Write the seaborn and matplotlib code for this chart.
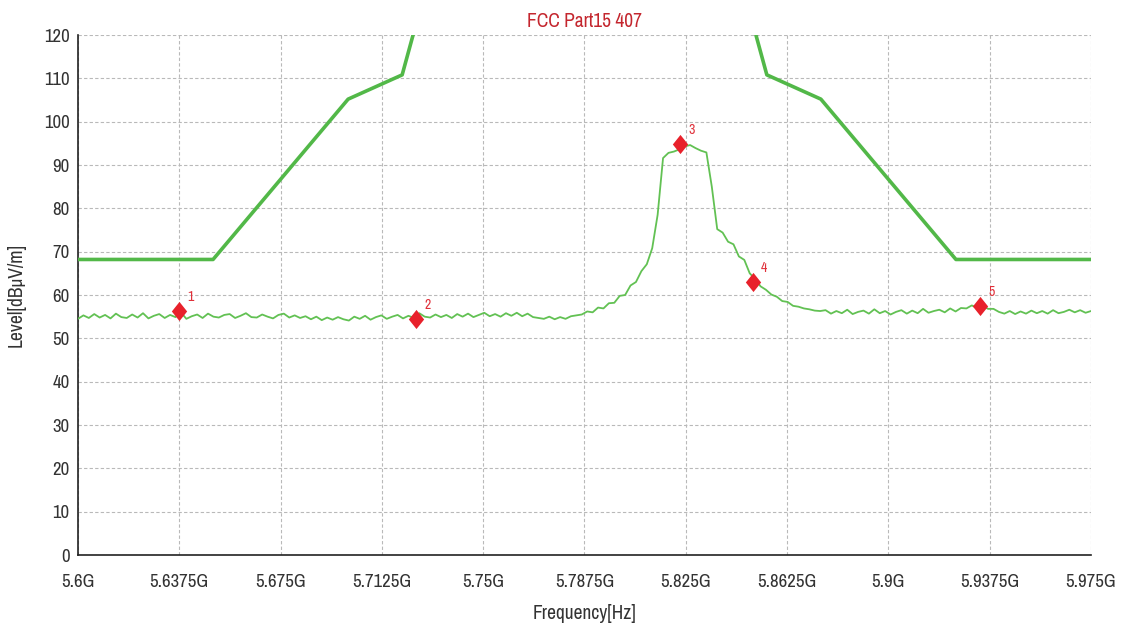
import numpy as np
import pandas as pd
import matplotlib
matplotlib.use("Agg")
import matplotlib.pyplot as plt
from matplotlib.path import Path
from matplotlib import font_manager as fm
import seaborn as sns

# ---------------- data ----------------
title = "FCC Part15 407"
x_label = "Frequency[Hz]"
y_label = "Level[dBμV/m]"

x_ticks = [5.6, 5.6375, 5.675, 5.7125, 5.75, 5.7875, 5.825, 5.8625, 5.9, 5.9375, 5.975]
x_tick_labels = ["5.6G", "5.6375G", "5.675G", "5.7125G", "5.75G", "5.7875G",
                 "5.825G", "5.8625G", "5.9G", "5.9375G", "5.975G"]
y_ticks = [0, 10, 20, 30, 40, 50, 60, 70, 80, 90, 100, 110, 120]

# FCC 15.407 limit mask (GHz, dBuV/m)
limit_freq = [5.600, 5.650, 5.700, 5.720, 5.725, 5.850, 5.855, 5.875, 5.925, 5.975]
limit_level = [68.2, 68.2, 105.2, 110.8, 122.2, 122.2, 110.8, 105.2, 68.2, 68.2]

trace_level = [
    # 5.600 - 5.638
    54.5, 55.3, 54.7, 55.6, 54.8, 55.4, 54.6, 55.7, 54.9, 54.7,
    55.5, 54.8, 55.8, 54.6, 55.2, 55.6, 54.7, 55.4, 54.9, 56.0,
    # 5.640 - 5.678
    54.5, 55.1, 55.5, 54.7, 55.7, 55.0, 54.8, 55.4, 55.6, 54.7,
    55.2, 55.8, 54.9, 54.8, 55.5, 55.0, 54.6, 55.4, 55.7, 54.8,
    # 5.680 - 5.718
    55.3, 54.7, 55.1, 54.4, 55.0, 54.2, 54.8, 54.3, 54.9, 54.4,
    54.1, 55.0, 54.5, 55.2, 54.3, 54.9, 55.3, 54.5, 55.0, 55.4,
    # 5.720 - 5.758
    54.6, 55.2, 54.7, 55.8, 55.0, 54.8, 55.5, 54.9, 55.4, 54.7,
    55.6, 55.0, 55.7, 54.9, 55.4, 55.9, 55.1, 55.6, 55.0, 55.8,
    # 5.760 - 5.784
    55.2, 55.9, 55.1, 55.7, 54.9, 54.7, 54.5, 55.0, 54.4, 54.9,
    54.5, 55.1, 55.3,
    # 5.786 - 5.874
    55.5, 56.2, 56.0, 57.1, 56.9, 58.1, 58.2, 59.8, 60.0, 62.2,
    63.0, 65.5, 67.1, 70.8, 78.5, 91.6, 92.8, 93.1, 93.6, 94.3,
    94.6, 93.9, 93.3, 92.9, 85.0, 75.2, 74.4, 72.3, 71.7, 68.9,
    68.1, 65.0, 63.7, 62.0, 61.2, 60.1, 59.6, 58.6, 58.4, 57.5,
    57.3, 56.9, 56.7, 56.4, 56.3,
    # 5.876 - 5.974
    56.5, 55.7, 56.3, 55.8, 56.6, 55.6, 56.1, 56.4, 55.7, 56.7,
    55.8, 56.3, 55.5, 56.1, 56.5, 55.7, 56.4, 55.8, 56.8, 55.9,
    56.3, 56.6, 56.0, 56.9, 56.2, 57.0, 56.9, 57.6, 57.0, 57.5,
    56.8, 56.8, 56.1, 55.7, 56.3, 55.6, 56.2, 55.7, 56.4, 55.8,
    56.3, 55.7, 56.5, 55.8, 56.1, 56.6, 56.0, 56.5, 55.9, 56.3,
]
trace_start, trace_stop = 5.600, 5.975

marker_ids = ["1", "2", "3", "4", "5"]
marker_freq = [5.6375, 5.7253, 5.8228, 5.8498, 5.9340]
marker_level = [56.4, 54.5, 94.8, 63.1, 57.5]

# ---------------- font choice (narrow Arial-like face if available) ----------------
available = {f.name for f in fm.fontManager.ttflist}
narrow_candidates = ["Liberation Sans Narrow", "Arial Narrow", "Archivo Narrow",
                     "Roboto Condensed", "PT Sans Narrow", "IBM Plex Sans Condensed"]
narrow = next((n for n in narrow_candidates if n in available), None)
if narrow is not None:
    fam = [narrow, "DejaVu Sans"]
    fs_tick, fs_title, fs_lab, fs_mark = 13.5, 14, 14, 10
else:
    fam = ["Liberation Sans", "DejaVu Sans"]
    fs_tick, fs_title, fs_lab, fs_mark = 11.5, 12.5, 12, 8.5

# ---------------- plot ----------------
sns.set_style("white")
plt.rcParams["font.family"] = fam

W, H = 1126, 632
fig = plt.figure(figsize=(W / 100, H / 100), dpi=100)
ax = fig.add_axes([78 / W, 1 - 555 / H, (1091 - 78) / W, (555 - 35) / H])

trace_df = pd.DataFrame({
    "freq": np.linspace(trace_start, trace_stop, len(trace_level)),
    "level": trace_level,
})
limit_df = pd.DataFrame({"freq": limit_freq, "level": limit_level})
mark_df = pd.DataFrame({"freq": marker_freq, "level": marker_level, "id": marker_ids})

sns.lineplot(data=limit_df, x="freq", y="level", ax=ax, color="#52b848",
             linewidth=2.6, sort=False, estimator=None, zorder=3)
sns.lineplot(data=trace_df, x="freq", y="level", ax=ax, color="#62c153",
             linewidth=1.3, sort=False, estimator=None, zorder=4)

diamond = Path([(0, 1), (0.8, 0), (0, -1), (-0.8, 0), (0, 1)],
               [Path.MOVETO, Path.LINETO, Path.LINETO, Path.LINETO, Path.CLOSEPOLY])
sns.scatterplot(data=mark_df, x="freq", y="level", ax=ax, marker=diamond,
                s=190, color="#e8212b", edgecolor="#e8212b", linewidth=0, zorder=6)
for f, l, t in zip(marker_freq, marker_level, marker_ids):
    ax.annotate(t, (f, l), xytext=(6, 5), textcoords="offset points",
                color="#e0303a", fontsize=fs_mark, ha="left", va="bottom", zorder=7)

ax.set_xlim(trace_start, trace_stop)
ax.set_ylim(0, 120)
ax.set_xticks(x_ticks)
ax.set_xticklabels(x_tick_labels)
ax.set_yticks(y_ticks)
ax.tick_params(axis="both", labelsize=fs_tick, colors="#222222", labelcolor="#333333")
ax.tick_params(axis="y", direction="out", length=4, width=1, pad=2)
ax.tick_params(axis="x", direction="in", length=7, width=0.8, pad=14)

ax.grid(True, color="#b9b9b9", linestyle=(0, (3, 2)), linewidth=0.8)
for side in ["top", "right"]:
    ax.spines[side].set_visible(False)
for side in ["left", "bottom"]:
    ax.spines[side].set_color("#222222")
    ax.spines[side].set_linewidth(1.2)

ax.set_title(title, color="#c4262e", fontsize=fs_title, pad=6)
ax.set_xlabel(x_label, fontsize=fs_lab, color="#333333", labelpad=10)
ax.set_ylabel(y_label, fontsize=fs_lab, color="#333333", labelpad=13)

fig.savefig("out.png", dpi=100, facecolor="white")
